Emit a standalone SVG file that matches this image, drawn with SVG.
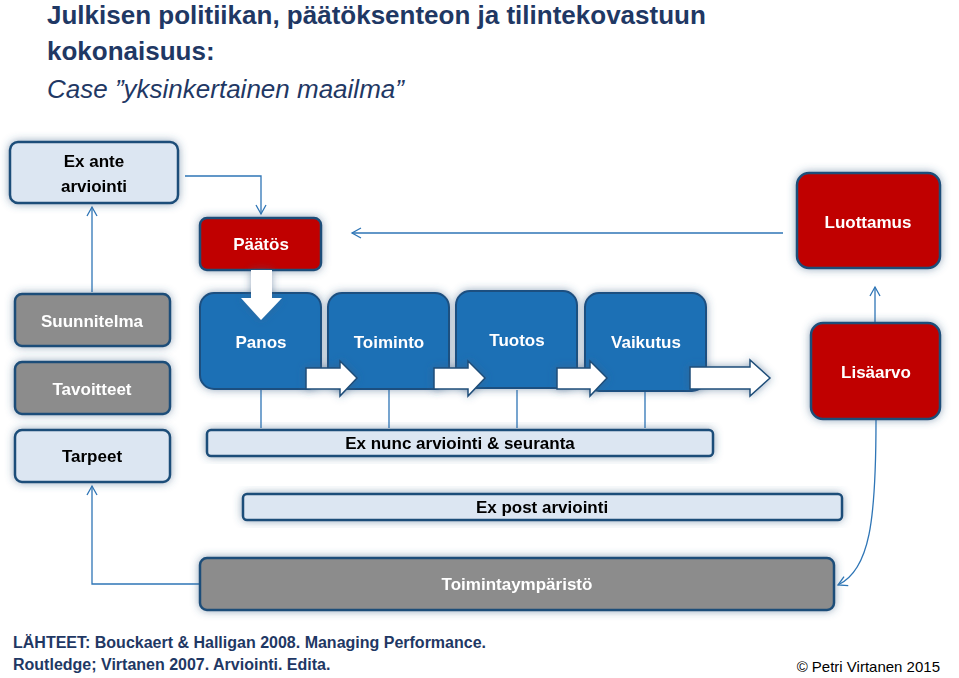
<svg xmlns="http://www.w3.org/2000/svg" width="959" height="678" viewBox="0 0 959 678">
<defs>
<filter id="glow" x="-30%" y="-30%" width="160%" height="160%"><feGaussianBlur in="SourceAlpha" stdDeviation="5"/><feFlood flood-color="#3a5f85" flood-opacity="0.55"/><feComposite operator="in" in2="SourceAlpha"/><feGaussianBlur stdDeviation="4"/><feMerge><feMergeNode/><feMergeNode in="SourceGraphic"/></feMerge></filter>
<marker id="ah" markerWidth="12" markerHeight="12" refX="10" refY="6" orient="auto" markerUnits="userSpaceOnUse"><path d="M1,1 L10,6 L1,11" fill="none" stroke="#2e75b6" stroke-width="1.3"/></marker>
</defs>
<style>
text{font-family:"Liberation Sans",Arial,sans-serif;font-weight:bold;text-anchor:middle}
.lt{fill:#dce6f2;stroke:#1f4e79;stroke-width:2.5}
.rd{fill:#c00000;stroke:#1f4e79;stroke-width:2.5}
.gr{fill:#8c8c8c;stroke:#1f4e79;stroke-width:2.5}
.bl{fill:#1f6fb5;stroke:#1a4f80;stroke-width:2}
.w{fill:#fff;font-size:17px}
.k{fill:#000;font-size:17px}
.c{fill:none;stroke:#2e75b6;stroke-width:1.3}
.ba{fill:#fff;stroke:#1f4e79;stroke-width:1.5}
.t{text-anchor:start;font-size:26px;fill:#1f3864}
</style>
<rect width="959" height="678" fill="#fff"/>
<text x="47" y="24" class="t">Julkisen politiikan, päätöksenteon ja tilintekovastuun</text>
<text x="47" y="60" class="t">kokonaisuus:</text>
<text x="47" y="98" class="t" style="font-style:italic;font-weight:normal">Case ”yksinkertainen maailma”</text>

<g id="connectors">
<path class="c" d="M185,176 H261 V214" marker-end="url(#ah)"/>
<path class="c" d="M92,292 V207" marker-end="url(#ah)"/>
<path class="c" d="M783,233 H352" marker-end="url(#ah)"/>
<path class="c" d="M875,322 V287" marker-end="url(#ah)"/>
<path class="c" d="M876,420 C876,520 870,570 838,585" marker-end="url(#ah)"/>
<path class="c" d="M200,584 H92 V486" marker-end="url(#ah)"/>
<path class="c" d="M261,390 V428 M389,390 V428 M517,390 V428 M645,390 V428"/>
</g>

<g id="exante" filter="url(#glow)"><rect class="lt" x="10" y="142" width="168" height="61" rx="8"/><text class="k" x="94" y="167">Ex ante</text><text class="k" x="94" y="192">arviointi</text></g>
<g id="paatos" filter="url(#glow)"><rect class="rd" x="200" y="218" width="121" height="52" rx="7"/><text class="w" x="261" y="250">Päätös</text></g>
<g id="luottamus" filter="url(#glow)"><rect class="rd" x="797" y="173" width="143" height="95" rx="12"/><text class="w" x="868" y="228">Luottamus</text></g>
<g id="suunnitelma" filter="url(#glow)"><rect class="gr" x="15" y="294" width="155" height="52" rx="7"/><text class="w" x="92" y="327">Suunnitelma</text></g>
<g id="tavoitteet" filter="url(#glow)"><rect class="gr" x="15" y="362" width="155" height="52" rx="7"/><text class="w" x="92" y="395">Tavoitteet</text></g>
<g id="tarpeet" filter="url(#glow)"><rect class="lt" x="15" y="430" width="155" height="52" rx="7"/><text class="k" x="92" y="462">Tarpeet</text></g>
<g id="panos" filter="url(#glow)"><rect class="bl" x="200" y="293" width="121" height="96" rx="14"/><text class="w" x="261" y="348">Panos</text></g>
<g id="toiminto" filter="url(#glow)"><rect class="bl" x="328" y="293" width="121" height="96" rx="14"/><text class="w" x="389" y="348">Toiminto</text></g>
<g id="tuotos" filter="url(#glow)"><rect class="bl" x="456" y="291" width="121" height="97" rx="14"/><text class="w" x="517" y="346">Tuotos</text></g>
<g id="vaikutus" filter="url(#glow)"><rect class="bl" x="585" y="293" width="121" height="98" rx="14"/><text class="w" x="646" y="348">Vaikutus</text></g>
<g id="lisaarvo" filter="url(#glow)"><rect class="rd" x="811" y="323" width="129" height="96" rx="12"/><text class="w" x="876" y="378">Lisäarvo</text></g>
<g id="exnunc" filter="url(#glow)"><rect class="lt" x="207" y="430" width="506" height="26" rx="4"/><text class="k" x="460" y="449">Ex nunc arviointi &amp; seuranta</text></g>
<g id="expost" filter="url(#glow)"><rect class="lt" x="243" y="494" width="599" height="26" rx="4"/><text class="k" x="542" y="513">Ex post arviointi</text></g>
<g id="ymparisto" filter="url(#glow)"><rect class="gr" x="200" y="558" width="634" height="52" rx="7"/><text class="w" x="517" y="590">Toimintaympäristö</text></g>

<g id="blockarrows" filter="url(#glow)">
<path fill="#fff" d="M251,270 H272 V298 H282 L261,320 L241,298 H251 Z"/>
<path class="ba" d="M306,368 H340 V361 L357,378 L340,396 V389 H306 Z"/>
<path class="ba" d="M434,368 H468 V361 L485,378 L468,396 V389 H434 Z"/>
<path class="ba" d="M557,368 H590 V361 L607,378 L590,396 V389 H557 Z"/>
<path class="ba" d="M690,367 H750 V360 L770,378 L750,396 V389 H690 Z"/>
</g>

<text x="13" y="648" style="text-anchor:start;font-size:16px" fill="#1f3864">LÄHTEET: Bouckaert &amp; Halligan 2008. Managing Performance.</text>
<text x="13" y="670" style="text-anchor:start;font-size:16px" fill="#1f3864">Routledge; Virtanen 2007. Arviointi. Edita.</text>
<text x="940" y="672" style="text-anchor:end;font-size:15px;font-weight:normal" fill="#000">© Petri Virtanen 2015</text>
</svg>
